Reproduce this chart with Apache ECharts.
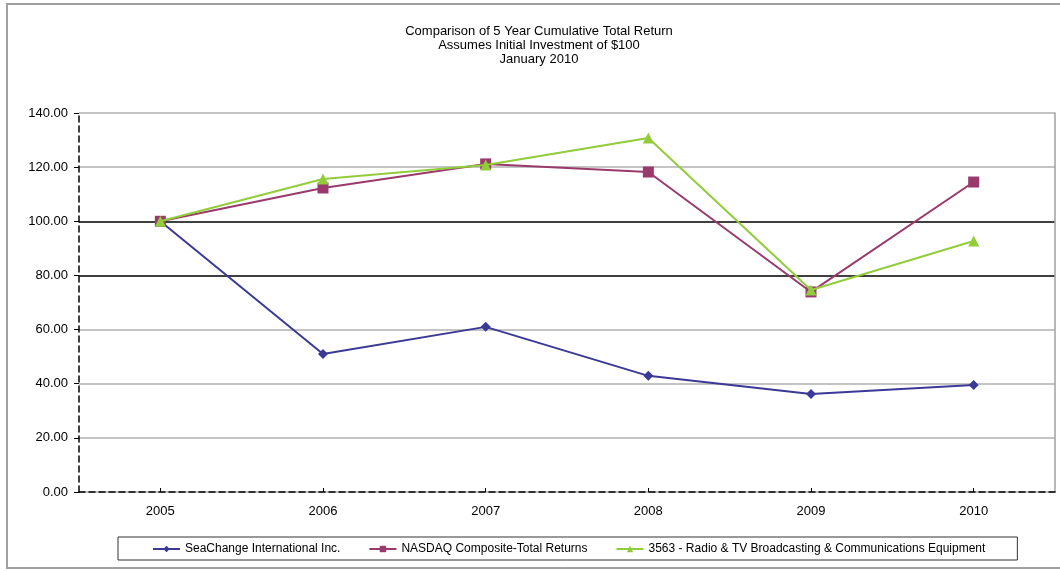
<!DOCTYPE html>
<html>
<head>
<meta charset="utf-8">
<script src="https://cdn.jsdelivr.net/npm/echarts@6/dist/echarts.min.js"></script>
<style>
html,body{margin:0;padding:0;background:#fff;}
#c{width:1060px;height:571px;}
</style>
</head>
<body>
<div id="c"></div>
<script>
var categories = ['2005', '2006', '2007', '2008', '2009', '2010'];
var seaChange = [100.0, 51.0, 61.0, 42.9, 36.2, 39.5];
var nasdaq = [100.0, 112.3, 121.2, 118.2, 73.9, 114.5];
var radioTv = [100.0, 115.6, 120.8, 130.8, 74.6, 92.7];
var seriesNames = ['SeaChange International Inc.', 'NASDAQ Composite-Total Returns', '3563 - Radio & TV Broadcasting & Communications Equipment'];
var titleLines = ['Comparison of 5 Year Cumulative Total Return', 'Assumes Initial Investment of $100', 'January 2010'];

var font = 'Liberation Sans, Arial, sans-serif';
var chart = echarts.init(document.getElementById('c'), null, {renderer: 'canvas'});
var gridColors = ['#b0b0b0', '#b0b0b0', '#b0b0b0', '#b0b0b0', '#000000', '#000000', '#b0b0b0', '#b0b0b0'];

chart.setOption({
  animation: false,
  backgroundColor: '#fff',
  title: {
    text: titleLines.join('\n'),
    left: 534, top: 19, textAlign: 'center',
    textStyle: {fontFamily: font, fontSize: 13, fontWeight: 'normal', color: '#000', lineHeight: 14}
  },
  graphic: [{
    type: 'rect', shape: {x: 7, y: 4, width: 1060, height: 564},
    style: {fill: 'none', stroke: '#a0a0a0', lineWidth: 2}, silent: true, z: -1
  }],
  grid: {left: 79, right: 5, top: 113, bottom: 79},
  legend: {
    left: 118, top: 537,
    padding: [6, 32, 5, 34],
    borderColor: '#333', borderWidth: 1,
    itemGap: 28, itemWidth: 27, itemHeight: 8,
    textStyle: {fontFamily: font, fontSize: 12, color: '#000'},
    data: seriesNames
  },
  xAxis: {
    type: 'category', data: categories, boundaryGap: true,
    axisLine: {show: true, lineStyle: {color: '#000', type: [6, 4], width: 1.5}},
    axisTick: {show: true, alignWithLabel: true, inside: true, length: 4, lineStyle: {color: '#000'}},
    axisLabel: {fontFamily: font, fontSize: 13, color: '#000', margin: 13},
    splitLine: {show: false}
  },
  yAxis: [{
    type: 'value', min: 0, max: 140, interval: 20,
    axisLine: {show: true, lineStyle: {color: '#000', type: [6, 4], width: 1.5}},
    axisTick: {show: true, inside: false, length: 5, lineStyle: {color: '#000'}},
    axisLabel: {fontFamily: font, fontSize: 13, color: '#000', margin: 11, formatter: function (v) { return v.toFixed(2); }},
    splitLine: {show: true, lineStyle: {color: gridColors, width: 1.5}}
  }, {
    type: 'value', min: 0, max: 140, interval: 20, position: 'right',
    axisLine: {show: true, lineStyle: {color: '#a0a0a0', width: 1.5}},
    axisTick: {show: false}, axisLabel: {show: false}, splitLine: {show: false}
  }],
  series: [{
    name: seriesNames[0], type: 'line', data: seaChange,
    symbol: 'diamond', symbolSize: 10,
    lineStyle: {color: '#3b3996', width: 2}, itemStyle: {color: '#3b3996'}, z: 3
  }, {
    name: seriesNames[1], type: 'line', data: nasdaq,
    symbol: 'rect', symbolSize: 11,
    lineStyle: {color: '#9a3a6c', width: 2}, itemStyle: {color: '#9a3a6c'}, z: 4
  }, {
    name: seriesNames[2], type: 'line', data: radioTv,
    symbol: 'triangle', symbolSize: 11,
    lineStyle: {color: '#92cc3a', width: 2}, itemStyle: {color: '#92cc3a'}, z: 5
  }]
});
</script>
</body>
</html>
